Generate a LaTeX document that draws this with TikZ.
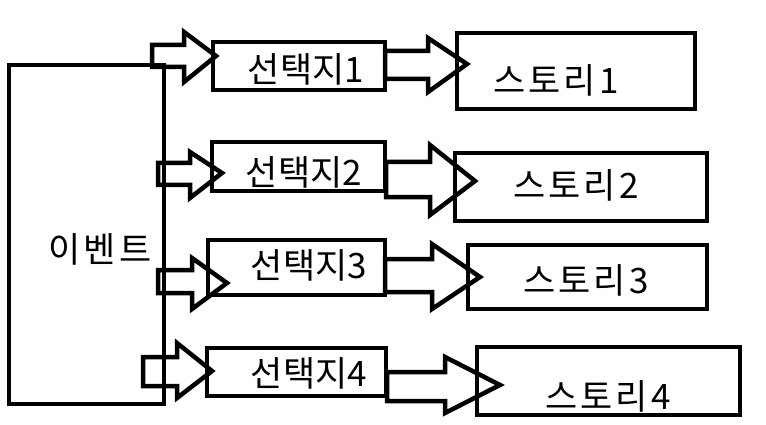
\documentclass[tikz,border=0pt]{standalone}
\usepackage{fontspec}
\newfontfamily\krfont{Noto Sans CJK KR}
\newfontfamily\krwide[LetterSpace=9]{Noto Sans CJK KR}
\newcommand\blockarr[8]{%
  \draw[blk] (#1,#2) -- (#4,#2) -- (#4,#5) -- (#7,#8) -- (#4,#6) -- (#4,#3) -- (#1,#3) -- cycle;}
\begin{document}
\begin{tikzpicture}[x=1pt,y=-1pt,
  blk/.style={line width=4.5pt,line join=miter,draw=black},
  box/.style={line width=4.5pt,draw=black},
  lbl/.style={font=\krfont\fontsize{35}{40}\selectfont,inner sep=0pt,anchor=center},
  wlbl/.style={font=\krwide\fontsize{35}{40}\selectfont,inner sep=0pt,anchor=center}]
\useasboundingbox (0,0) rectangle (766,425);
% boxes
\draw[box] (9,65) rectangle (164,404);
\draw[box] (213,42) rectangle (385,90);
\draw[box] (212,142) rectangle (385,191);
\draw[box] (208,240) rectangle (385,295);
\draw[box] (207,348) rectangle (386,396);
\draw[box] (457,33) rectangle (695,109);
\draw[box] (455,153) rectangle (707,221);
\draw[box] (468,245) rectangle (707,309);
\draw[box] (477,347) rectangle (740,415);
% arrows event -> choices
\blockarr{152}{45}{67}{184}{32}{82}{216}{56}
\blockarr{158}{163}{185}{190}{152}{198}{222}{173}
\blockarr{158}{270}{293}{192}{258}{309}{227}{283}
\blockarr{143}{357}{386}{177}{343}{398}{212}{371}
% arrows choices -> stories
\blockarr{385}{51}{79}{428}{38}{92}{467}{64}
\blockarr{386}{162}{197}{430}{145}{215}{475}{181}
\blockarr{385}{259}{292}{432}{244}{309}{480}{277}
\blockarr{387}{372}{401}{445}{357}{413}{500}{385}
% labels
\node[wlbl] (ev) at (100,249) {이벤트};
\node[lbl] (c1) at (306,69) {선택지1};
\node[lbl] (c2) at (304,172) {선택지2};
\node[lbl] (c3) at (309,265) {선택지3};
\node[lbl] (c4) at (309,373) {선택지4};
\node[wlbl] (s1) at (556,80) {스토리1};
\node[wlbl] (s2) at (576,185) {스토리2};
\node[wlbl] (s3) at (586,280) {스토리3};
\node[wlbl] (s4) at (608,396) {스토리4};
\end{tikzpicture}
\end{document}
